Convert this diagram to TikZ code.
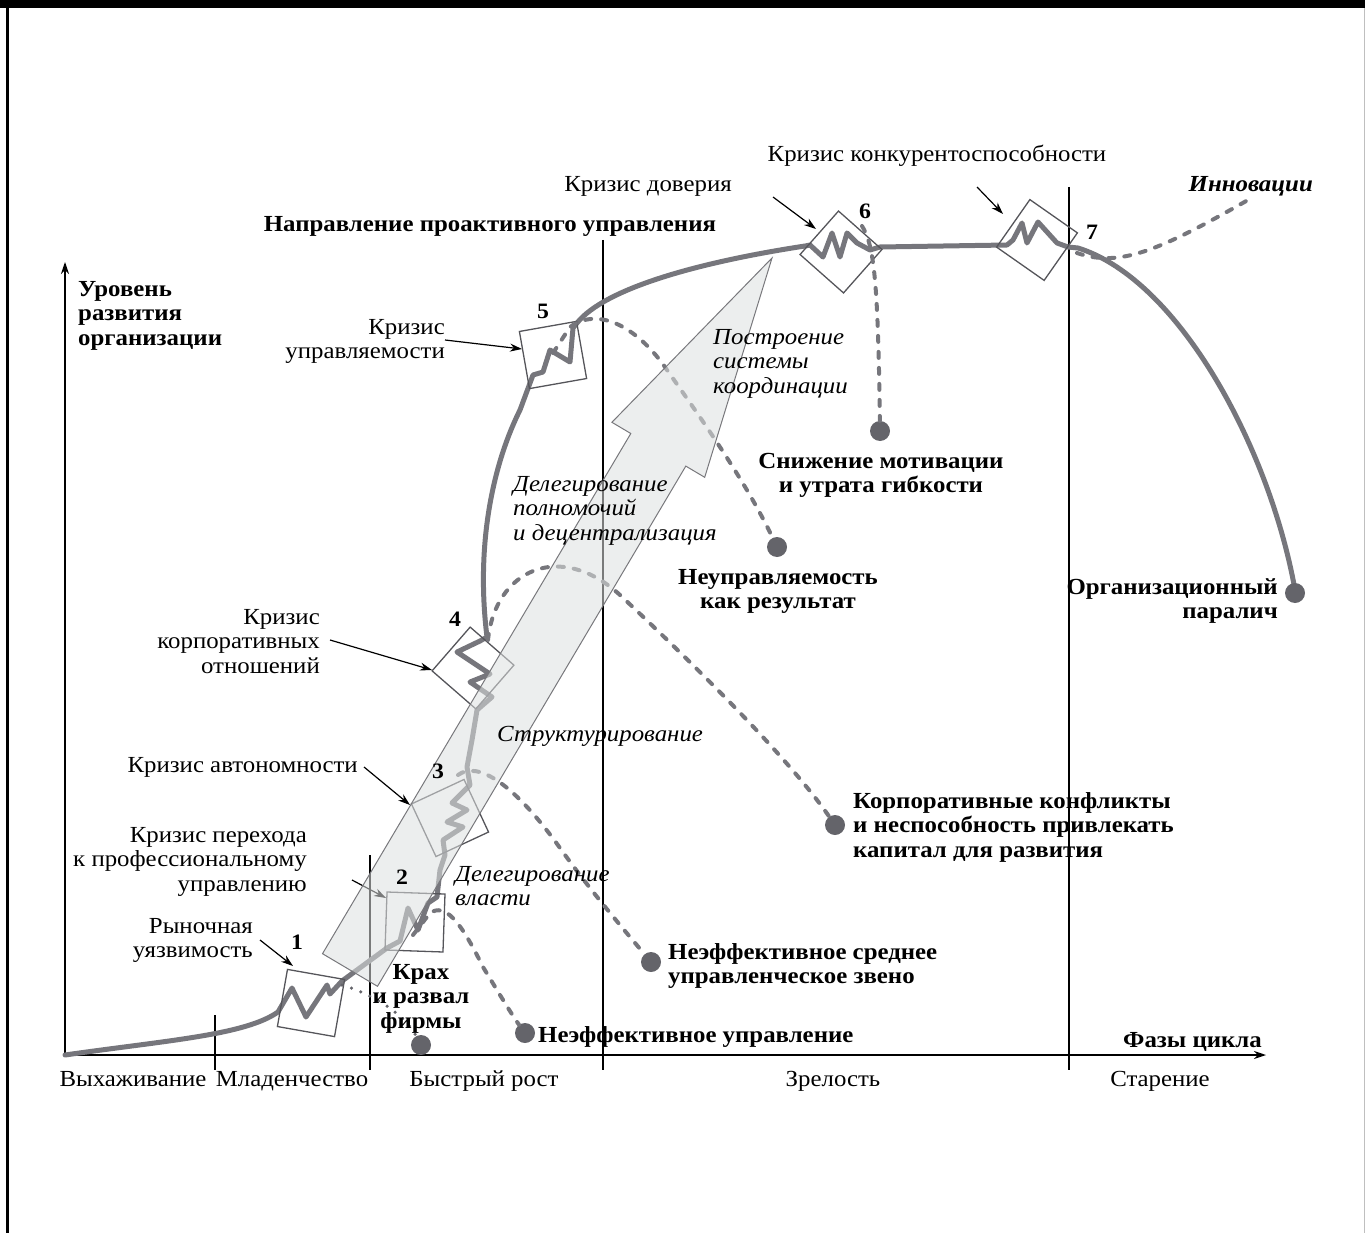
\documentclass[tikz,border=0pt]{standalone}
\usepackage{fontspec}
\setmainfont[FakeStretch=1.08]{Liberation Serif}
\usetikzlibrary{arrows.meta}
\definecolor{curvec}{RGB}{118,118,124}
\definecolor{boxc}{RGB}{85,85,90}
\definecolor{dotc}{RGB}{100,100,106}
\definecolor{arrowfill}{RGB}{221,224,224}
\definecolor{arrowline}{RGB}{120,120,124}
\tikzset{
  maincurve/.style={draw=curvec, line width=5pt, line join=round, line cap=round},
  crisisbox/.style={draw=boxc, line width=1.3pt, minimum size=58pt, inner sep=0pt},
  dashc/.style={draw=curvec, line width=4pt, dash pattern=on 6pt off 10pt, line cap=round},
  finedots/.style={draw=dotc, line width=3.5pt, dash pattern=on 0pt off 10pt, line cap=round},
  enddot/.style={circle, fill=dotc, minimum size=20pt, inner sep=0pt},
  note/.style={-{Stealth[length=12pt,width=8pt]}, line width=1.2pt, black},
  axisline/.style={-{Stealth[length=12pt,width=8pt]}, line width=1.3pt, black},
  phaseline/.style={line width=1.2pt, black},
  bigarrow/.style={fill=arrowfill, fill opacity=0.55, draw=arrowline, line width=1pt},
  lbl/.style={inner sep=0pt, font=\fontsize{23}{24.5}\selectfont},
  blbl/.style={inner sep=0pt, font=\fontsize{23}{24.5}\selectfont\bfseries},
  ilbl/.style={inner sep=0pt, font=\fontsize{23}{24.5}\selectfont\itshape},
  bilbl/.style={inner sep=0pt, font=\fontsize{23}{24.5}\selectfont\bfseries\itshape},
  nlbl/.style={inner sep=0pt, font=\fontsize{22}{24}\selectfont\bfseries},
}
\begin{document}
\begin{tikzpicture}[x=1pt,y=-1pt]
\useasboundingbox (0,0) rectangle (1365,1233);
% frame
\fill[black] (0,0) rectangle (1365,8);
\fill[black] (6,0) rectangle (8.5,1233);
\fill[black!25] (1363.5,8) rectangle (1365,1233);

% axes
\coordinate (O) at (65,1055);
\coordinate (Ytop) at (65,262);
\coordinate (Xend) at (1266,1055);
\draw[axisline] (O) -- (Ytop);
\draw[axisline] (O) -- (Xend);
% phase lines
\coordinate (v1a) at (215,1015); \coordinate (v1b) at (215,1070);
\coordinate (v2a) at (370,855);  \coordinate (v2b) at (370,1070);
\coordinate (v3a) at (603,240);  \coordinate (v3b) at (603,1070);
\coordinate (v4a) at (1069,187); \coordinate (v4b) at (1069,1070);
\draw[phaseline] (v1a) -- (v1b);
\draw[phaseline] (v2a) -- (v2b);
\draw[phaseline] (v3a) -- (v3b);
\draw[phaseline] (v4a) -- (v4b);

% main curve with crisis zigzags
\draw[maincurve] (O) .. controls (170,1040) and (245,1035) .. (278,1012)
 -- (292,988) -- (306,1017) -- (327,985) -- (330,994) -- (342,981)
 -- (387,948) -- (400,941)
 -- (408,908) -- (418,930) -- (428,903) -- (437,897)
 -- (440,870) -- (445,855)
 -- (443,840) -- (463,827) -- (447,822) -- (467,810) -- (452,803) -- (470,785) -- (467,767) -- (472,740)
 -- (477,710) -- (492,697) -- (470,682) -- (490,674) -- (457,652) -- (480,641) -- (487,637)
 .. controls (475,540) and (495,460) .. (520,410) -- (533,375)
 -- (543,372) -- (550,350) -- (570,362) -- (573,328) -- (577,323)
 .. controls (605,288) and (700,262) .. (805,246)
 -- (810,245) -- (823,257) -- (832,233) -- (840,257) -- (847,233) -- (857,243) -- (870,250) -- (880,247)
 -- (1007,245) -- (1013,240) -- (1022,223) -- (1027,243) -- (1038,222) -- (1057,243) -- (1068,247) -- (1078,248)
 .. controls (1180,280) and (1270,450) .. (1295,590);

% crisis boxes
\node[crisisbox, rotate=-10]  (k1) at (311,1003) {};
\node[crisisbox, rotate=-2]   (k2) at (415,922) {};
\node[crisisbox, rotate=25]   (k3) at (450,818) {};
\node[crisisbox, rotate=-41]  (k4) at (473,668) {};
\node[crisisbox, rotate=10]   (k5) at (553,355) {};
\node[crisisbox, rotate=-41.5] (k6) at (841,252) {};
\node[crisisbox, rotate=-35]  (k7) at (1037,240) {};

% outcome dots
\node[enddot] (d1) at (421,1045) {};
\node[enddot] (d2) at (525,1033) {};
\node[enddot] (d3) at (651,962) {};
\node[enddot] (d4) at (835,825) {};
\node[enddot] (d5) at (777,547) {};
\node[enddot] (d6) at (880,431) {};
\node[enddot] (d7) at (1295,593) {};

% dashed consequence lines
\coordinate (s1) at (342,985);
\coordinate (s2) at (413,935);
\coordinate (s3) at (458,775);
\coordinate (s4) at (488,640);
\coordinate (s5) at (553,353);
\coordinate (s6) at (862,226);
\coordinate (s7) at (1077,253);
\coordinate (inn) at (1248,200);
\draw[finedots] (s1) .. controls (375,995) and (405,1015) .. (d1);
\draw[dashc] (s2) -- (430,913) .. controls (445,903) and (460,920) .. (483,967) .. controls (500,995) and (512,1015) .. (d2);
\draw[dashc] (s3) .. controls (478,760) and (515,785) .. (560,848) .. controls (590,890) and (620,925) .. (d3);
\draw[dashc] (s4) .. controls (495,570) and (560,540) .. (620,595) .. controls (700,670) and (790,760) .. (d4);
\draw[dashc] (s5) -- (570,327) .. controls (600,305) and (640,330) .. (667,370) .. controls (700,417) and (745,480) .. (d5);
\draw[dashc] (s6) .. controls (874,245) and (878,280) .. (d6);
\draw[dashc] (s7) .. controls (1120,268) and (1160,250) .. (inn);

% arrow to crisis 2 (lies under the big arrow)
\coordinate (a2s) at (352,880); \coordinate (a2e) at (386,898);
\draw[note] (a2s) -- (a2e);

% big translucent arrow
\draw[bigarrow] (322.5,953.7) -- (630.8,433.5) -- (611.9,422.3) -- (772,258)
  -- (704.7,477.3) -- (685.8,466.1) -- (377.5,986.3) -- cycle;

% annotation arrows
\coordinate (a1s) at (260,940);  \coordinate (a1e) at (293,966);
\coordinate (a3s) at (364,767);  \coordinate (a3e) at (410,805);
\coordinate (a4s) at (330,640);  \coordinate (a4e) at (432,670);
\coordinate (a5s) at (445,340);  \coordinate (a5e) at (522,349);
\coordinate (a6s) at (773,197);  \coordinate (a6e) at (816,229);
\coordinate (a7s) at (977,187);  \coordinate (a7e) at (1003,214);
\draw[note] (a1s) -- (a1e);
\draw[note] (a3s) -- (a3e);
\draw[note] (a4s) -- (a4e);
\draw[note] (a5s) -- (a5e);
\draw[note] (a6s) -- (a6e);
\draw[note] (a7s) -- (a7e);

% numbers
\node[nlbl, anchor=base] (n1) at (297,949) {1};
\node[nlbl, anchor=base] (n2) at (402,884) {2};
\node[nlbl, anchor=base] (n3) at (438,778) {3};
\node[nlbl, anchor=base] (n4) at (455,626) {4};
\node[nlbl, anchor=base] (n5) at (543,318) {5};
\node[nlbl, anchor=base] (n6) at (865,219) {6};
\node[nlbl, anchor=base] (n7) at (1092,240) {7};

% texts (multi-line nodes: base = last line)
\node[lbl, anchor=base] (t7) at (937,162) {Кризис конкурентоспособности};
\node[lbl, anchor=base] (t6) at (648,192) {Кризис доверия};
\node[bilbl, anchor=base east] (tinn) at (1313,192) {Инновации};
\node[blbl, anchor=base] (ttitle) at (490,232) {Направление проактивного управления};
\node[blbl, anchor=base west, align=left] (tyax) at (78,345) {Уровень\\развития\\организации};
\node[lbl, anchor=base east, align=right] (t5) at (445,358.5) {Кризис\\управляемости};
\node[ilbl, anchor=base west, align=left] (tcoord) at (713,393) {Построение\\системы\\координации};
\node[blbl, anchor=base, align=center] (to6) at (881,492.5) {Снижение мотивации\\и утрата гибкости};
\node[ilbl, anchor=base west, align=left] (tdeleg) at (513,540) {Делегирование\\полномочий\\и децентрализация};
\node[blbl, anchor=base, align=center] (to5) at (778,608.5) {Неуправляемость\\как результат};
\node[lbl, anchor=base east, align=right] (t4) at (320,673) {Кризис\\корпоративных\\отношений};
\node[ilbl, anchor=base west] (tstruct) at (497,741) {Структурирование};
\node[lbl, anchor=base east] (t3) at (358,772) {Кризис автономности};
\node[blbl, anchor=base west, align=left] (to4) at (853,857) {Корпоративные конфликты\\и неспособность привлекать\\капитал для развития};
\node[lbl, anchor=base east, align=right] (t2) at (307,891) {Кризис перехода\\к профессиональному\\управлению};
\node[ilbl, anchor=base west, align=left] (tvl) at (455,905.5) {Делегирование\\власти};
\node[lbl, anchor=base east, align=right] (t1) at (253,957.5) {Рыночная\\уязвимость};
\node[blbl, anchor=base, align=center] (to1) at (421,1028) {Крах\\и развал\\фирмы};
\node[blbl, anchor=base west, align=left] (to3) at (668,983.5) {Неэффективное среднее\\управленческое звено};
\node[blbl, anchor=base west] (to2) at (538,1042) {Неэффективное управление};
\node[blbl, anchor=base east, align=right] (to7) at (1278,618.5) {Организационный\\паралич};
\node[blbl, anchor=base east] (txax) at (1262,1047) {Фазы цикла};
\node[lbl, anchor=base] (ph1) at (133,1086) {Выхаживание};
\node[lbl, anchor=base] (ph2) at (292,1086) {Младенчество};
\node[lbl, anchor=base] (ph3) at (484,1086) {Быстрый рост};
\node[lbl, anchor=base] (ph4) at (833,1086) {Зрелость};
\node[lbl, anchor=base] (ph5) at (1160,1086) {Старение};
\end{tikzpicture}
\end{document}
